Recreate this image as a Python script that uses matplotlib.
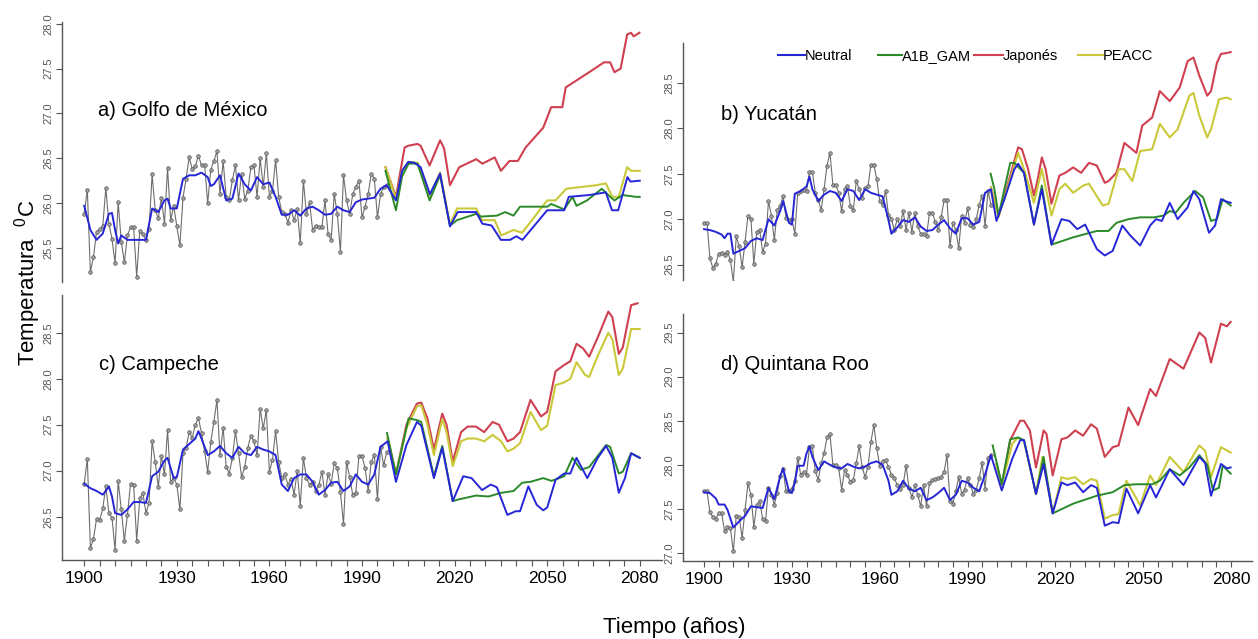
import matplotlib
matplotlib.use("Agg")
import matplotlib.pyplot as plt
from matplotlib.lines import Line2D

plt.rcParams['font.family'] = ['Liberation Sans', 'DejaVu Sans']

OBS_YEARS = list(range(1900, 1999))

# ---------------- a) Golfo de México ----------------
A_OBS = [25.88, 26.15, 25.23, 25.40, 25.68, 25.71, 25.74, 26.17, 25.77, 25.60,
         25.33, 26.01, 25.57, 25.34, 25.64, 25.73, 25.73, 25.18, 25.69, 25.65,
         25.59, 25.71, 26.32, 25.92, 25.83, 26.06, 25.77, 26.39, 25.81, 25.97,
         25.74, 25.53, 26.06, 26.27, 26.51, 26.38, 26.41, 26.53, 26.42, 26.43,
         26.00, 26.37, 26.47, 26.58, 26.10, 26.47, 26.07, 26.03, 26.26, 26.42,
         26.03, 26.33, 26.05, 26.14, 26.40, 26.42, 26.07, 26.50, 26.18, 26.56,
         26.07, 26.14, 26.48, 26.07, 25.90, 25.88, 25.78, 25.92, 25.81, 25.93,
         25.55, 26.25, 25.88, 26.01, 25.70, 25.75, 25.73, 25.73, 26.03, 25.66,
         25.59, 26.10, 25.88, 25.46, 26.31, 26.03, 25.88, 26.10, 26.18, 26.25,
         25.84, 25.96, 26.10, 26.33, 26.27, 25.84, 26.10, 26.18, 26.20]
A_NEU_YR = [1900, 1902, 1904, 1906, 1908, 1909, 1910, 1911, 1912, 1914, 1916, 1918, 1920,
            1922, 1924, 1926, 1927, 1928, 1930, 1932, 1934, 1936, 1938, 1940, 1941, 1942,
            1944, 1946, 1948, 1950, 1952, 1954, 1956, 1958, 1960, 1962, 1964, 1966, 1968,
            1970, 1972, 1974, 1976, 1978, 1980, 1982, 1984, 1986, 1988, 1990, 1992, 1994,
            1996, 1998, 2001, 2003, 2005, 2007, 2009, 2012, 2015.3, 2018.5, 2021, 2027, 2029, 2032,
            2035, 2038, 2040, 2042, 2050, 2055.5, 2057, 2063.6, 2069, 2071, 2073, 2076,
            2077, 2080]
A_NEU = [25.97, 25.70, 25.59, 25.66, 25.88, 25.89, 25.70, 25.55, 25.64, 25.59, 25.59, 25.59, 25.59,
         25.94, 25.90, 26.03, 26.05, 25.94, 25.94, 26.27, 26.31, 26.31, 26.34, 26.29, 26.19, 26.21,
         26.31, 26.03, 26.05, 26.33, 26.21, 26.14, 26.29, 26.21, 26.23, 26.07, 25.87, 25.87, 25.92,
         25.86, 25.94, 25.96, 25.92, 25.87, 25.88, 25.96, 25.92, 25.90, 26.01, 26.04, 26.05, 26.06,
         26.16, 26.20, 26.03, 26.36, 26.46, 26.45, 26.40, 26.10, 26.33, 25.74, 25.90, 25.90, 25.77, 25.75,
         25.59, 25.59, 25.63, 25.59, 25.92, 25.92, 26.07, 26.09, 26.12, 25.92, 25.92, 26.29,
         26.24, 26.25]
A_A1B_YR = [1997.6, 2001, 2003, 2005.1, 2008, 2011.9, 2015.3, 2018.5, 2020.8, 2027, 2028.5, 2033.7,
            2036.4, 2039.1, 2041.2, 2050, 2051.3, 2055.5, 2058.2, 2059.5, 2062.9, 2067.7, 2070.4,
            2071.8, 2074.5, 2078.6, 2080]
A_A1B = [26.36, 25.92, 26.30, 26.44, 26.44, 26.03, 26.31, 25.75, 25.81, 25.88, 25.85, 25.86,
         25.90, 25.86, 25.96, 25.96, 25.99, 25.93, 26.07, 25.97, 26.03, 26.16, 26.07,
         26.03, 26.09, 26.07, 26.07]
A_JAP_YR = [1997.6, 2001, 2003.8, 2005, 2008, 2009, 2011.9, 2015.3, 2016.6, 2018.5, 2021.5, 2027,
            2029, 2033, 2035, 2037.8, 2040.5, 2043, 2048.7, 2051.3, 2054.9, 2056, 2063.6, 2068.4,
            2070.4, 2071.8, 2073.8, 2075.9, 2077.2, 2078, 2079.9]
A_JAP = [26.40, 26.07, 26.62, 26.64, 26.66, 26.64, 26.42, 26.70, 26.61, 26.20, 26.40, 26.49,
         26.44, 26.51, 26.36, 26.47, 26.47, 26.62, 26.84, 27.07, 27.07, 27.29, 27.46, 27.57,
         27.57, 27.46, 27.50, 27.88, 27.90, 27.86, 27.90]
A_PEA_YR = [1997.6, 2001, 2003, 2005.1, 2008, 2011.9, 2015.3, 2018.5, 2020.8, 2027, 2028.9, 2033,
            2035.1, 2039.1, 2041.9, 2050, 2052.7, 2056.2, 2066, 2069, 2071.1, 2073.2, 2075.9,
            2077.2, 2080]
A_PEA = [26.40, 26.05, 26.36, 26.46, 26.45, 26.08, 26.34, 25.76, 25.94, 25.94, 25.81, 25.81,
         25.64, 25.70, 25.67, 26.03, 26.03, 26.16, 26.20, 26.22, 26.07, 26.07, 26.40,
         26.36, 26.36]

# ---------------- b) Yucatán ----------------
B_OBS = [26.96, 26.96, 26.57, 26.46, 26.51, 26.62, 26.63, 26.61, 26.64, 26.55,
         26.31, 26.81, 26.70, 26.47, 26.75, 27.04, 27.00, 26.51, 26.86, 26.88,
         26.64, 26.73, 27.20, 27.04, 26.77, 27.10, 27.14, 27.26, 27.01, 26.99,
         27.00, 26.84, 27.29, 27.31, 27.32, 27.31, 27.52, 27.52, 27.29, 27.21,
         27.10, 27.33, 27.59, 27.73, 27.38, 27.38, 27.29, 27.09, 27.33, 27.36,
         27.14, 27.10, 27.42, 27.33, 27.23, 27.34, 27.36, 27.60, 27.60, 27.44,
         27.20, 27.16, 27.31, 27.05, 27.00, 26.88, 27.00, 26.93, 27.09, 26.88,
         27.07, 26.86, 27.07, 26.92, 26.84, 26.84, 26.81, 27.07, 27.07, 26.97,
         26.88, 27.02, 27.21, 27.21, 26.70, 26.96, 26.88, 26.68, 27.04, 26.96,
         27.12, 26.94, 26.91, 27.00, 27.16, 27.26, 26.92, 27.31, 27.16]
B_NEU_YR = [1900, 1902, 1904, 1906, 1907, 1908, 1909, 1910, 1912, 1914, 1916, 1918, 1920,
            1922, 1924, 1926, 1927, 1929, 1930, 1931, 1933, 1935, 1936, 1937, 1939, 1941,
            1943, 1945, 1947, 1949, 1951, 1953, 1955, 1957, 1959, 1961, 1963, 1964, 1966,
            1968, 1970, 1972, 1974, 1976, 1978, 1980, 1982, 1984, 1986, 1988, 1990, 1992,
            1994, 1996, 1998, 1999.9, 2002.6, 2006, 2007.3, 2009.3, 2012.7, 2015.4, 2018.7,
            2022.1, 2024.8, 2027.5, 2030.2, 2034.2, 2036.9, 2039.6, 2042.9, 2045.6, 2049,
            2052.4, 2054.4, 2056.4, 2059.1, 2061.8, 2065.2, 2067.2, 2069.2, 2072.5, 2074.6,
            2076.6, 2077.9, 2079.9]
B_NEU = [26.89, 26.88, 26.86, 26.83, 26.79, 26.84, 26.84, 26.62, 26.65, 26.68, 26.76, 26.79, 26.77,
         27.00, 26.93, 27.09, 27.20, 26.96, 26.94, 27.28, 27.31, 27.36, 27.47, 27.33, 27.20, 27.27,
         27.31, 27.29, 27.20, 27.33, 27.31, 27.21, 27.33, 27.29, 27.27, 27.25, 26.99, 26.84, 26.91,
         26.99, 26.97, 27.02, 26.92, 26.87, 26.88, 26.94, 26.99, 26.90, 26.84, 27.01, 27.01, 26.94,
         26.97, 27.29, 27.33, 26.98, 27.22, 27.55, 27.61, 27.51, 26.94, 27.33, 26.72,
         27.00, 26.98, 26.89, 26.94, 26.67, 26.60, 26.65, 26.93, 26.82, 26.71,
         26.93, 27.00, 26.98, 27.18, 27.00, 27.13, 27.31, 27.22, 26.85, 26.93,
         27.22, 27.20, 27.18]
B_A1B_YR = [1997.9, 1999.2, 2000.6, 2004.6, 2006, 2009.3, 2012.7, 2015.4, 2018.7, 2026.1, 2034.2,
            2038.2, 2040.9, 2045, 2049, 2053.7, 2057.1, 2059.1, 2061.1, 2063.8, 2067.8, 2070.5,
            2073.2, 2075.2, 2077.2, 2079.9]
B_A1B = [27.50, 27.33, 27.04, 27.62, 27.62, 27.51, 26.94, 27.37, 26.72, 26.80, 26.87,
         26.87, 26.96, 27.00, 27.02, 27.02, 27.04, 27.09, 27.07, 27.18, 27.31, 27.24,
         26.98, 27.00, 27.22, 27.15]
B_JAP_YR = [1998, 2000.6, 2003.9, 2007.3, 2008.6, 2010.7, 2012.7, 2014, 2015.4, 2016.7, 2018.7,
            2021.4, 2023.4, 2026.1, 2028.8, 2031.5, 2034.2, 2036.9, 2038.2, 2040.9, 2043.6,
            2047.7, 2049.7, 2053.1, 2055.7, 2059.1, 2062.5, 2065.2, 2067.2, 2069.2, 2071.9,
            2073.2, 2075.2, 2076.6, 2078.6, 2079.9]
B_JAP = [27.35, 27.04, 27.40, 27.79, 27.77, 27.55, 27.26, 27.44, 27.68, 27.55, 27.17,
         27.48, 27.51, 27.57, 27.51, 27.62, 27.59, 27.40, 27.42, 27.51, 27.84,
         27.73, 28.03, 28.12, 28.41, 28.30, 28.45, 28.74, 28.78, 28.58, 28.36,
         28.41, 28.72, 28.82, 28.83, 28.84]
B_PEA_YR = [1998, 2000.6, 2003.9, 2007.3, 2009.3, 2012.7, 2015.4, 2018.7, 2021.4, 2023.4, 2026.1,
            2029.5, 2031.5, 2036.2, 2038.2, 2041.6, 2043.6, 2046.3, 2049, 2053.1, 2055.7,
            2059.1, 2061.8, 2065.8, 2067.2, 2069.2, 2071.9, 2073.2, 2075.9, 2078.6, 2079.9]
B_PEA = [27.35, 27.02, 27.37, 27.73, 27.55, 27.18, 27.55, 27.04, 27.33, 27.39, 27.29,
         27.37, 27.39, 27.15, 27.17, 27.55, 27.55, 27.42, 27.75, 27.77, 28.05,
         27.90, 27.99, 28.36, 28.39, 28.14, 27.90, 27.99, 28.32, 28.34, 28.32]

# ---------------- c) Campeche ----------------
C_OBS = [26.86, 27.13, 26.16, 26.26, 26.48, 26.46, 26.59, 26.83, 26.54, 26.49,
         26.14, 26.89, 26.58, 26.24, 26.52, 26.86, 26.85, 26.24, 26.70, 26.76,
         26.54, 26.65, 27.32, 27.10, 26.82, 27.16, 26.96, 27.44, 26.88, 26.92,
         26.85, 26.58, 27.19, 27.25, 27.42, 27.36, 27.50, 27.57, 27.41, 27.21,
         26.99, 27.31, 27.53, 27.77, 27.17, 27.47, 27.04, 26.97, 27.14, 27.43,
         27.19, 26.93, 27.04, 27.25, 27.38, 27.32, 27.17, 27.67, 27.46, 27.66,
         26.99, 27.12, 27.43, 27.10, 26.92, 26.96, 26.85, 26.91, 26.74, 27.00,
         26.62, 27.14, 26.92, 26.85, 26.88, 26.78, 26.84, 26.99, 26.74, 26.96,
         26.86, 27.08, 27.03, 26.77, 26.42, 27.10, 26.93, 26.74, 26.76, 27.16,
         27.16, 27.03, 26.78, 27.10, 27.17, 26.69, 27.26, 27.06, 27.20]
C_NEU_YR = [1900, 1902, 1904, 1906, 1907, 1908, 1909, 1910, 1912, 1914, 1916, 1918, 1920,
            1922, 1924, 1926, 1927, 1929, 1930, 1932, 1934, 1936, 1937, 1938, 1940, 1942,
            1944, 1946, 1948, 1950, 1952, 1954, 1956, 1958, 1960, 1962, 1964, 1966, 1968,
            1970, 1972, 1974, 1976, 1978, 1980, 1982, 1984, 1986, 1988, 1990, 1992, 1994,
            1996, 1998.3, 2001, 2004.4, 2007.8, 2009.2, 2013.3, 2016, 2019.4, 2022.8, 2025.5,
            2028.9, 2031.7, 2033.7, 2037.1, 2039.8, 2041.2, 2043.9, 2046.6, 2048.7, 2050,
            2052.7, 2055.5, 2057.5, 2059.5, 2063, 2066.4, 2069.1, 2071.1, 2073.2, 2075.2,
            2077.2, 2080]
C_NEU = [26.86, 26.81, 26.78, 26.74, 26.78, 26.83, 26.72, 26.54, 26.52, 26.58, 26.66, 26.66, 26.65,
         26.94, 26.99, 27.11, 27.14, 26.92, 26.93, 27.23, 27.29, 27.35, 27.43, 27.35, 27.17, 27.21,
         27.27, 27.19, 27.14, 27.26, 27.19, 27.17, 27.26, 27.23, 27.21, 27.17, 26.85, 26.78, 26.92,
         26.96, 26.96, 26.88, 26.74, 26.79, 26.87, 26.88, 26.78, 26.83, 26.96, 26.88, 26.85, 26.96,
         27.26, 27.32, 26.88, 27.28, 27.53, 27.49, 26.92, 27.25, 26.67, 26.94, 26.92,
         26.79, 26.85, 26.82, 26.52, 26.56, 26.56, 26.83, 26.63, 26.57, 26.60,
         26.90, 26.97, 26.97, 27.14, 26.92, 27.14, 27.27, 27.14, 26.76, 26.92,
         27.19, 27.14]
C_A1B_YR = [1998.1, 2001, 2005.1, 2007.8, 2009.2, 2013.3, 2016, 2019.4, 2021.5, 2026.9, 2031,
            2035.1, 2039.1, 2041.9, 2044.6, 2048.7, 2051.4, 2055.5, 2058.2, 2060.9, 2063.6,
            2069.1, 2070.4, 2073.2, 2074.5, 2077.2, 2080]
C_A1B = [27.41, 26.96, 27.57, 27.55, 27.53, 26.94, 27.27, 26.67, 26.69, 26.73, 26.72,
         26.76, 26.78, 26.87, 26.88, 26.92, 26.89, 26.94, 27.14, 27.01, 27.04,
         27.28, 27.26, 26.97, 26.99, 27.19, 27.14]
C_JAP_YR = [1998.3, 2001, 2004.4, 2007.8, 2009.2, 2011.2, 2013.3, 2016, 2017.4, 2019.4, 2022.1,
            2024.2, 2026.9, 2029.6, 2032.3, 2034.4, 2037.1, 2039.1, 2041.2, 2044.6, 2048, 2050,
            2052.7, 2055.5, 2057.5, 2059.5, 2061.6, 2063.6, 2066.4, 2069.8, 2071.1, 2073.2,
            2074.5, 2077.2, 2079.3]
C_JAP = [27.35, 26.96, 27.50, 27.73, 27.74, 27.57, 27.23, 27.62, 27.50, 27.10, 27.42,
         27.48, 27.48, 27.42, 27.53, 27.50, 27.32, 27.35, 27.42, 27.77, 27.59, 27.64,
         28.08, 28.15, 28.19, 28.38, 28.33, 28.24, 28.45, 28.73, 28.67, 28.27,
         28.34, 28.80, 28.82]
C_PEA_YR = [1998.3, 2001, 2004.4, 2007.8, 2009.2, 2011.2, 2013.3, 2016, 2017.4, 2019.4, 2022.1,
            2024.2, 2026.9, 2029.6, 2032.3, 2035.1, 2037.1, 2039.1, 2041.2, 2044.6, 2048, 2050,
            2052.7, 2055.5, 2057.5, 2059.5, 2062.3, 2063.6, 2066.4, 2069.8, 2071.1, 2073.2,
            2074.5, 2077.2, 2080]
C_PEA = [27.35, 26.96, 27.46, 27.70, 27.71, 27.50, 27.17, 27.56, 27.42, 27.05, 27.32,
         27.35, 27.35, 27.32, 27.39, 27.32, 27.21, 27.24, 27.30, 27.64, 27.44, 27.49,
         27.93, 27.96, 28.00, 28.18, 28.04, 28.02, 28.25, 28.50, 28.43, 28.04,
         28.11, 28.54, 28.54]

# ---------------- d) Quintana Roo ----------------
D_OBS = [27.70, 27.70, 27.46, 27.41, 27.39, 27.45, 27.45, 27.25, 27.29, 27.28,
         27.02, 27.42, 27.41, 27.17, 27.49, 27.79, 27.66, 27.30, 27.55, 27.59,
         27.39, 27.36, 27.74, 27.66, 27.55, 27.68, 27.87, 27.95, 27.70, 27.70,
         27.73, 27.82, 28.08, 27.89, 27.92, 27.89, 28.20, 28.21, 27.93, 27.83,
         28.02, 28.13, 28.31, 28.35, 28.00, 28.00, 27.96, 27.72, 27.94, 27.89,
         27.80, 27.83, 28.02, 28.21, 27.98, 27.86, 27.98, 28.26, 28.45, 28.19,
         27.99, 28.04, 28.05, 27.98, 27.89, 27.85, 27.77, 27.73, 27.77, 27.99,
         27.74, 27.63, 27.77, 27.66, 27.53, 27.77, 27.53, 27.79, 27.83, 27.84,
         27.85, 27.86, 27.92, 28.11, 27.59, 27.56, 27.70, 27.86, 27.67, 27.72,
         27.85, 27.77, 27.67, 27.72, 27.85, 28.02, 27.73, 28.08, 28.11]
D_NEU_YR = [1900, 1902, 1904, 1905, 1906, 1907, 1908, 1910, 1912, 1914, 1916, 1918, 1920,
            1922, 1924, 1926, 1927, 1929, 1930, 1931, 1932, 1934, 1935, 1936, 1937, 1939,
            1941, 1943, 1945, 1947, 1949, 1951, 1953, 1955, 1957, 1959, 1961, 1963, 1964,
            1966, 1968, 1970, 1972, 1974, 1976, 1978, 1980, 1982, 1984, 1986, 1988, 1990,
            1992, 1994, 1996, 1998, 2001.7, 2005.3, 2008, 2009.3, 2013.4, 2016, 2019.1,
            2022.1, 2024.1, 2026.8, 2029.5, 2032.2, 2034.2, 2036.9, 2039.6, 2041.6, 2044.3,
            2048.3, 2052.4, 2054.4, 2059.1, 2063.8, 2069.2, 2071.2, 2073.2, 2076.6, 2078.6,
            2079.9]
D_NEU = [27.69, 27.68, 27.62, 27.55, 27.55, 27.55, 27.49, 27.29, 27.36, 27.42, 27.53, 27.52, 27.51,
         27.74, 27.61, 27.87, 27.96, 27.70, 27.68, 27.80, 27.99, 27.99, 28.13, 28.21, 28.09, 27.94,
         28.04, 28.00, 27.97, 27.96, 28.01, 27.98, 27.96, 27.98, 28.02, 28.04, 28.00, 27.82, 27.66,
         27.70, 27.82, 27.73, 27.70, 27.74, 27.60, 27.63, 27.68, 27.74, 27.60, 27.66, 27.82, 27.80,
         27.74, 27.70, 27.89, 28.11, 27.71, 28.07, 28.28, 28.28, 27.67, 28.01, 27.45,
         27.80, 27.77, 27.80, 27.69, 27.77, 27.74, 27.31, 27.35, 27.34, 27.73,
         27.45, 27.77, 27.63, 27.95, 27.77, 28.09, 28.02, 27.65, 28.01, 27.96,
         27.97]
D_A1B_YR = [1998.6, 2001.7, 2004.6, 2007.3, 2009.3, 2013.4, 2016, 2019.1, 2026.1, 2034.2, 2039.6,
            2043.6, 2047.7, 2053.1, 2055.7, 2059.1, 2062.5, 2065.8, 2069.2, 2071.9, 2073.9,
            2075.9, 2077.2, 2079.9]
D_A1B = [28.22, 27.78, 28.29, 28.31, 28.28, 27.67, 28.09, 27.45, 27.56, 27.65, 27.69,
         27.77, 27.78, 27.78, 27.82, 27.95, 27.88, 27.97, 28.11, 28.00, 27.71,
         27.74, 27.99, 27.90]
D_JAP_YR = [1999.9, 2001.7, 2004.6, 2008, 2009.3, 2011.3, 2013.4, 2016, 2017, 2019.1, 2022.1,
            2024.1, 2026.8, 2029.5, 2032.2, 2034.2, 2036.9, 2039.6, 2041.6, 2045, 2048.3,
            2052.4, 2054.4, 2059.1, 2063.8, 2069.2, 2071.2, 2073.2, 2076.6, 2078.6, 2079.9]
D_JAP = [28.01, 27.77, 28.28, 28.50, 28.50, 28.39, 27.97, 28.39, 28.35, 27.88, 28.29,
         28.31, 28.39, 28.33, 28.46, 28.41, 28.09, 28.20, 28.22, 28.65, 28.45,
         28.86, 28.78, 29.20, 29.09, 29.50, 29.44, 29.16, 29.60, 29.57, 29.62]
D_PEA_YR = [1999.9, 2001.7, 2005.3, 2007.3, 2009.3, 2013.4, 2015.6, 2019.1, 2022.1, 2024.1,
            2026.8, 2029.5, 2032.2, 2034.2, 2036.9, 2039.6, 2041.6, 2044.3, 2049, 2052.4,
            2054.4, 2059.1, 2063.8, 2069.2, 2071.2, 2073.2, 2076.6, 2079.9]
D_PEA = [28.01, 27.77, 28.24, 28.31, 28.27, 27.67, 28.09, 27.45, 27.86, 27.84,
         27.86, 27.78, 27.84, 27.82, 27.39, 27.43, 27.44, 27.82, 27.54, 27.88,
         27.77, 28.09, 27.92, 28.22, 28.16, 27.86, 28.20, 28.14]

TITLES = ["a) Golfo de México", "b) Yucatán", "c) Campeche", "d) Quintana Roo"]
SERIES_NAMES = ["Neutral", "A1B_GAM", "Japonés", "PEACC"]
X_LABEL = "Tiempo (años)"
Y_LABEL = "Temperatura  $\\mathregular{^{0}}$C"

C_BLUE = "#2626d6"
C_GREEN = "#2a8a2a"
C_RED = "#cf4050"
C_YELLOW = "#c9c93a"
C_GRAY = "#6e6e6e"

W, H = 1258, 639
fig = plt.figure(figsize=(W / 100, H / 100), dpi=100)


def px_axes(x0, y0, x1, y1):
    return fig.add_axes([x0 / W, 1 - y1 / H, (x1 - x0) / W, (y1 - y0) / H])


panels = [
    dict(box=(62, 22, 662, 282), ylim=(25.12, 28.02), yt=[25.5, 26.0, 26.5, 27.0, 27.5, 28.0],
         obs=A_OBS, neu=(A_NEU_YR, A_NEU), a1b=(A_A1B_YR, A_A1B), jap=(A_JAP_YR, A_JAP),
         pea=(A_PEA_YR, A_PEA), bottom=False, tpos=(98, 110)),
    dict(box=(683, 43, 1252, 280), ylim=(26.33, 28.94), yt=[26.5, 27.0, 27.5, 28.0, 28.5],
         obs=B_OBS, neu=(B_NEU_YR, B_NEU), a1b=(B_A1B_YR, B_A1B), jap=(B_JAP_YR, B_JAP),
         pea=(B_PEA_YR, B_PEA), bottom=False, tpos=(721, 115)),
    dict(box=(62, 295, 662, 560), ylim=(26.03, 28.91), yt=[26.5, 27.0, 27.5, 28.0, 28.5],
         obs=C_OBS, neu=(C_NEU_YR, C_NEU), a1b=(C_A1B_YR, C_A1B), jap=(C_JAP_YR, C_JAP),
         pea=(C_PEA_YR, C_PEA), bottom=True, tpos=(99, 365)),
    dict(box=(683, 314, 1252, 561), ylim=(26.91, 29.71), yt=[27.0, 27.5, 28.0, 28.5, 29.0, 29.5],
         obs=D_OBS, neu=(D_NEU_YR, D_NEU), a1b=(D_A1B_YR, D_A1B), jap=(D_JAP_YR, D_JAP),
         pea=(D_PEA_YR, D_PEA), bottom=True, tpos=(721, 365)),
]

axes = []
for i, p in enumerate(panels):
    ax = px_axes(*p["box"])
    axes.append(ax)
    ax.set_xlim(1892.8, 2087.2)
    ax.set_ylim(*p["ylim"])
    ax.plot(OBS_YEARS, p["obs"], color=C_GRAY, lw=0.8, marker="o", ms=2.6,
            mfc="#a0a0a0", mec="#555555", mew=0.5, zorder=2)
    ax.plot(*p["jap"], color=C_RED, lw=1.5, zorder=3)
    ax.plot(*p["pea"], color=C_YELLOW, lw=1.5, zorder=4)
    ax.plot(*p["a1b"], color=C_GREEN, lw=1.4, zorder=5)
    ax.plot(*p["neu"], color=C_BLUE, lw=1.4, zorder=6)

    for s in ["top", "right"]:
        ax.spines[s].set_visible(False)
    ax.spines["left"].set_color("#555555")
    ax.spines["left"].set_linewidth(1.0)
    ax.set_yticks(p["yt"])
    ax.set_yticklabels([f"{v:.1f}" for v in p["yt"]], rotation=90, va="center",
                       fontsize=8, color="#555555")
    ax.tick_params(axis="y", length=4, width=0.8, color="#555555", pad=2)
    if p["bottom"]:
        ax.spines["bottom"].set_color("#555555")
        ax.spines["bottom"].set_linewidth(1.0)
        xt = list(range(1900, 2081, 5))
        ax.set_xticks(xt)
        ax.set_xticklabels([str(t) if (t - 1900) % 30 == 0 else "" for t in xt],
                           fontsize=12.5, color="black")
        ax.tick_params(axis="x", length=4, width=0.8, color="#555555", pad=4)
    else:
        ax.spines["bottom"].set_visible(False)
        ax.set_xticks([])
    fig.text(p["tpos"][0] / W, 1 - p["tpos"][1] / H, TITLES[i], fontsize=14.5,
             ha="left", va="center")

# legend (keys + labels at the reference positions, all on one baseline)
LEG_COLORS = [C_BLUE, C_GREEN, C_RED, C_YELLOW]
LEG_X = [(778, 805), (878, 902), (974, 1003), (1078, 1103)]
LEG_Y = 55
for (x0, x1), col, name in zip(LEG_X, LEG_COLORS, SERIES_NAMES):
    fig.add_artist(Line2D([x0 / W, x1 / W], [1 - LEG_Y / H, 1 - LEG_Y / H],
                          color=col, lw=1.5, transform=fig.transFigure))
    fig.text(x1 / W, 1 - (LEG_Y + 5) / H, name, fontsize=10.5, ha="left", va="baseline")

fig.text(28 / W, 1 - 283 / H, Y_LABEL, rotation=90, fontsize=16, ha="center", va="center")
fig.text(674 / W, 1 - 627 / H, X_LABEL, fontsize=16, ha="center", va="center")

fig.savefig("out.png", dpi=100)
